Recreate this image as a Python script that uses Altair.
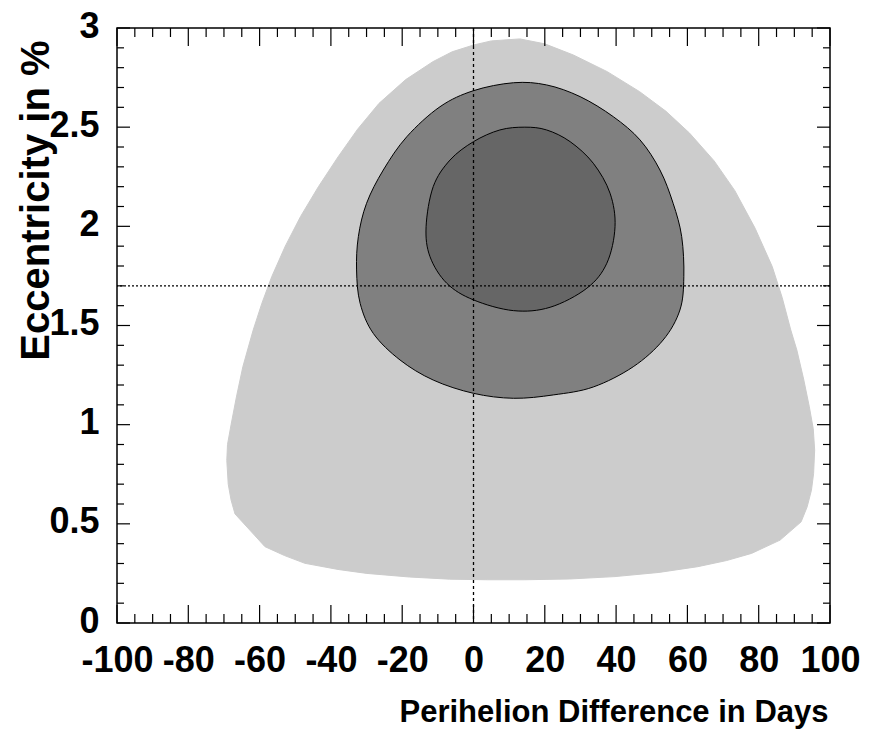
import altair as alt
import pandas as pd

# Confidence regions in the (perihelion difference, eccentricity) plane
outer_x = [13, 5, 0, -6, -11.4, -19, -26.5, -32.5, -38, -43.5, -48.5, -52.8, -56.6, -59.4,
           -61.8, -64.7, -66.5, -68.0, -69.0, -69.2, -68.8, -68.0, -66.9, -58.5, -53, -47.3,
           -38, -29.9, -18, -6.7, 4, 14.2, 27, 39.7, 52, 62.9, 71, 78, 86, 91.9, 93.6, 94.8,
           95.4, 95.7, 95.3, 94.2, 92.6, 90.7, 89, 86.6, 83.8, 79, 73.3, 67.5, 60.6, 54,
           46.6, 37.5, 28, 20]
outer_y = [2.945, 2.935, 2.914, 2.88, 2.83, 2.74, 2.62, 2.49, 2.35, 2.2, 2.05, 1.9, 1.746,
           1.61, 1.477, 1.292, 1.14, 1.0, 0.9, 0.82, 0.7, 0.62, 0.55, 0.385, 0.34, 0.301,
           0.27, 0.25, 0.232, 0.221, 0.218, 0.218, 0.222, 0.234, 0.255, 0.284, 0.315, 0.351,
           0.418, 0.51, 0.586, 0.67, 0.754, 0.872, 0.98, 1.09, 1.23, 1.376, 1.477, 1.64,
           1.797, 1.99, 2.18, 2.33, 2.47, 2.58, 2.679, 2.78, 2.864, 2.92]

middle_x = [11.2, 20.5, 29.9, 39.2, 46.7, 52.3, 56, 58.4, 59, 57.9, 53.2, 44.8, 33.6, 22.4,
            11.2, 0, -11.3, -20.6, -28.1, -31.8, -32.8, -32.3, -30, -25.3, -18.7, -9.4, 0]
middle_y = [2.724, 2.713, 2.654, 2.553, 2.436, 2.284, 2.116, 1.948, 1.746, 1.578, 1.427,
            1.292, 1.19, 1.15, 1.133, 1.158, 1.225, 1.326, 1.46, 1.612, 1.78, 1.948, 2.116,
            2.284, 2.452, 2.603, 2.684]

inner_x = [14.4, 20.5, 27.1, 33.6, 38.3, 39.7, 37.4, 31.8, 21.5, 11.2, 0, -7.5, -12.2,
           -13.3, -11.3, -6.6, 0, 7.4]
inner_y = [2.5, 2.486, 2.427, 2.318, 2.167, 1.998, 1.814, 1.688, 1.592, 1.575, 1.629,
           1.713, 1.847, 1.998, 2.2, 2.334, 2.427, 2.486]

# Reference values marked by the dotted cross-hair
ref_days = 0
ref_ecc = 1.7

# Axis ticks
x_major = list(range(-100, 101, 20))
x_minor = [v for v in range(-95, 100, 5) if v % 20 != 0]
y_major = [0, 0.5, 1, 1.5, 2, 2.5, 3]
y_minor = [round(i * 0.1, 1) for i in range(1, 30) if i % 5 != 0]

W, H = 713, 595
FONT = "Liberation Sans, Arial, sans-serif"

x_scale = alt.Scale(domain=[-100, 100], nice=False, zero=False)
y_scale = alt.Scale(domain=[0, 3], nice=False, zero=False)

x_axis = alt.Axis(
    title="Perihelion Difference in Days", values=x_major, labelExpr="datum.value + ''",
    ticks=False, tickSize=0, domain=False, grid=False,
    labelFont=FONT, labelFontSize=36, labelFontWeight="bold", labelColor="black",
    labelPadding=20, labelFlush=False, labelOverlap=False,
    titleFont=FONT, titleFontSize=31, titleFontWeight="bold", titleColor="black",
    titleAlign="right", titleAnchor="end", titleX=W - 2, titleY=98, titleBaseline="alphabetic",
)
y_axis = alt.Axis(
    title="Eccentricity in %", values=y_major, labelExpr="datum.value + ''",
    ticks=False, tickSize=0, domain=False, grid=False,
    labelFont=FONT, labelFontSize=36, labelFontWeight="bold", labelColor="black",
    labelPadding=18, labelOffset=-2, labelFlush=False, labelOverlap=False,
    titleFont=FONT, titleFontSize=40, titleFontWeight="bold", titleColor="black",
    titleAngle=270, titleAlign="right", titleAnchor="end", titleX=-69, titleY=12,
    titleBaseline="alphabetic",
)


def region(xs, ys, fill, stroke, curve):
    df = pd.DataFrame({"x": xs, "y": ys, "i": range(len(xs))})
    mark = alt.Chart(df).mark_line(
        interpolate=curve, fill=fill, stroke=stroke,
        strokeWidth=1, fillOpacity=1,
    )
    return mark.encode(
        x=alt.X("x:Q", scale=x_scale, axis=x_axis),
        y=alt.Y("y:Q", scale=y_scale, axis=y_axis),
        order=alt.Order("i:Q"),
    )


outer = region(outer_x, outer_y, "#cccccc", "#cccccc", "linear-closed")
middle = region(middle_x, middle_y, "#808080", "black", "cardinal-closed")
inner = region(inner_x, inner_y, "#666666", "black", "cardinal-closed")

vline = alt.Chart(pd.DataFrame({"x": [ref_days]})).mark_rule(
    color="black", strokeWidth=1.3, strokeDash=[3, 3]
).encode(x=alt.X("x:Q", scale=x_scale, axis=x_axis))
hline = alt.Chart(pd.DataFrame({"y": [ref_ecc]})).mark_rule(
    color="black", strokeWidth=1.3, strokeDash=[2, 2]
).encode(y=alt.Y("y:Q", scale=y_scale, axis=y_axis))


def x_ticks(values, length):
    df = pd.DataFrame({"x": values})
    base = alt.Chart(df).mark_rule(color="black", strokeWidth=1.2)
    bottom = base.encode(x=alt.X("x:Q", scale=x_scale, axis=x_axis),
                         y=alt.value(H), y2=alt.value(H - length))
    top = base.encode(x=alt.X("x:Q", scale=x_scale, axis=x_axis),
                      y=alt.value(0), y2=alt.value(length))
    return [bottom, top]


def y_ticks(values, length):
    df = pd.DataFrame({"y": values})
    base = alt.Chart(df).mark_rule(color="black", strokeWidth=1.2)
    left = base.encode(y=alt.Y("y:Q", scale=y_scale, axis=y_axis),
                       x=alt.value(0), x2=alt.value(length))
    right = base.encode(y=alt.Y("y:Q", scale=y_scale, axis=y_axis),
                        x=alt.value(W), x2=alt.value(W - length))
    return [left, right]


layers = [outer, middle, inner, vline, hline]
layers += x_ticks(x_major, 18) + x_ticks(x_minor, 9)
layers += y_ticks(y_major, 13) + y_ticks(y_minor, 7)

chart = alt.layer(*layers).properties(
    width=W, height=H,
    padding={"left": 117, "top": 28, "right": 44, "bottom": 113},
    autosize=alt.AutoSizeParams(type="none"),
    background="white",
).configure_view(stroke="black", strokeWidth=1.5)

chart.save("out.html", embed_options={"renderer": "svg", "actions": False})
